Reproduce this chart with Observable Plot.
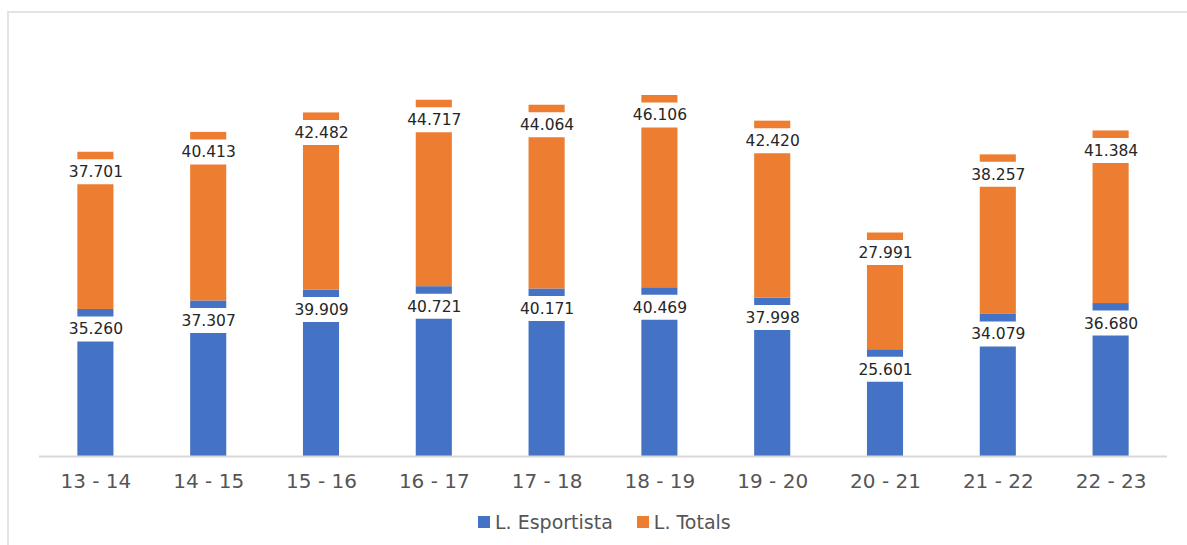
<!DOCTYPE html>
<html>
<head>
<meta charset="utf-8">
<script src="https://cdn.jsdelivr.net/npm/d3@7"></script>
<script src="https://cdn.jsdelivr.net/npm/@observablehq/plot@0.6"></script>
<style>
  html, body { margin: 0; padding: 0; background: #fff; }
  #wrap { position: relative; width: 1187px; height: 545px; overflow: hidden; font-family: "DejaVu Sans", sans-serif; }
  #frame { position: absolute; left: 7px; top: 11px; width: 1190px; height: 540px; border-left: 2px solid #e3e3e3; border-top: 2px solid #e3e3e3; }
  #chart { position: absolute; left: 0; top: 0; }
  #legend { position: absolute; left: 478px; top: 511px; display: flex; align-items: center; font-size: 19px; color: #555555; white-space: nowrap; }
  #legend .sw { display: inline-block; width: 12px; height: 12px; margin-right: 5px; }
  #legend .item { display: flex; align-items: center; margin-right: 24px; }
</style>
</head>
<body>
<div id="wrap">
  <div id="frame"></div>
  <div id="chart"></div>
  <div id="legend"></div>
</div>
<script>
const seasons = ["13 - 14", "14 - 15", "15 - 16", "16 - 17", "17 - 18", "18 - 19", "19 - 20", "20 - 21", "21 - 22", "22 - 23"];
const esportista = [35260, 37307, 39909, 40721, 40171, 40469, 37998, 25601, 34079, 36680];
const totals = [37701, 40413, 42482, 44717, 44064, 46106, 42420, 27991, 38257, 41384];
const seriesNames = ["L. Esportista", "L. Totals"];
const seriesColors = ["#4472C4", "#ED7D31"];

const data = seasons.flatMap((s, i) => [
  {season: s, serie: seriesNames[0], value: esportista[i]},
  {season: s, serie: seriesNames[1], value: totals[i]}
]);

const fmt = d3.formatLocale({decimal: ",", thousands: ".", grouping: [3], currency: ["", "€"]}).format(",d");

const chart = Plot.plot({
  width: 1187,
  height: 500,
  marginLeft: 39,
  marginRight: 20,
  marginTop: 39,
  marginBottom: 44,
  style: {fontFamily: "DejaVu Sans, sans-serif", color: "#555555", background: "transparent"},
  x: {domain: seasons, paddingInner: 0.68, paddingOuter: 0.34, round: false, label: null},
  y: {domain: [0, 100000], axis: null},
  color: {domain: seriesNames, range: seriesColors},
  marks: [
    Plot.barY(data, Plot.stackY({x: "season", y: "value", fill: "serie", z: "serie"})),
    Plot.tickY(data, Plot.stackY2({x: "season", y: "value", z: "serie", stroke: "white", strokeWidth: 25, dy: 19.5, insetLeft: -1, insetRight: -1})),
    Plot.text(data, Plot.stackY2({x: "season", y: "value", z: "serie", text: d => fmt(d.value), dy: 20, fill: "#262626", fontSize: 15.5})),
    Plot.ruleY([0], {stroke: "#d9d9d9", strokeWidth: 2}),
    Plot.axisX({tickSize: 0, tickPadding: 17, fontSize: 20, fill: "#555555", label: null})
  ]
});
document.getElementById("chart").appendChild(chart);

const legend = document.getElementById("legend");
seriesNames.forEach((name, i) => {
  const item = document.createElement("div");
  item.className = "item";
  const sw = document.createElement("span");
  sw.className = "sw";
  sw.style.background = seriesColors[i];
  item.appendChild(sw);
  item.appendChild(document.createTextNode(name));
  legend.appendChild(item);
});
</script>
</body>
</html>
